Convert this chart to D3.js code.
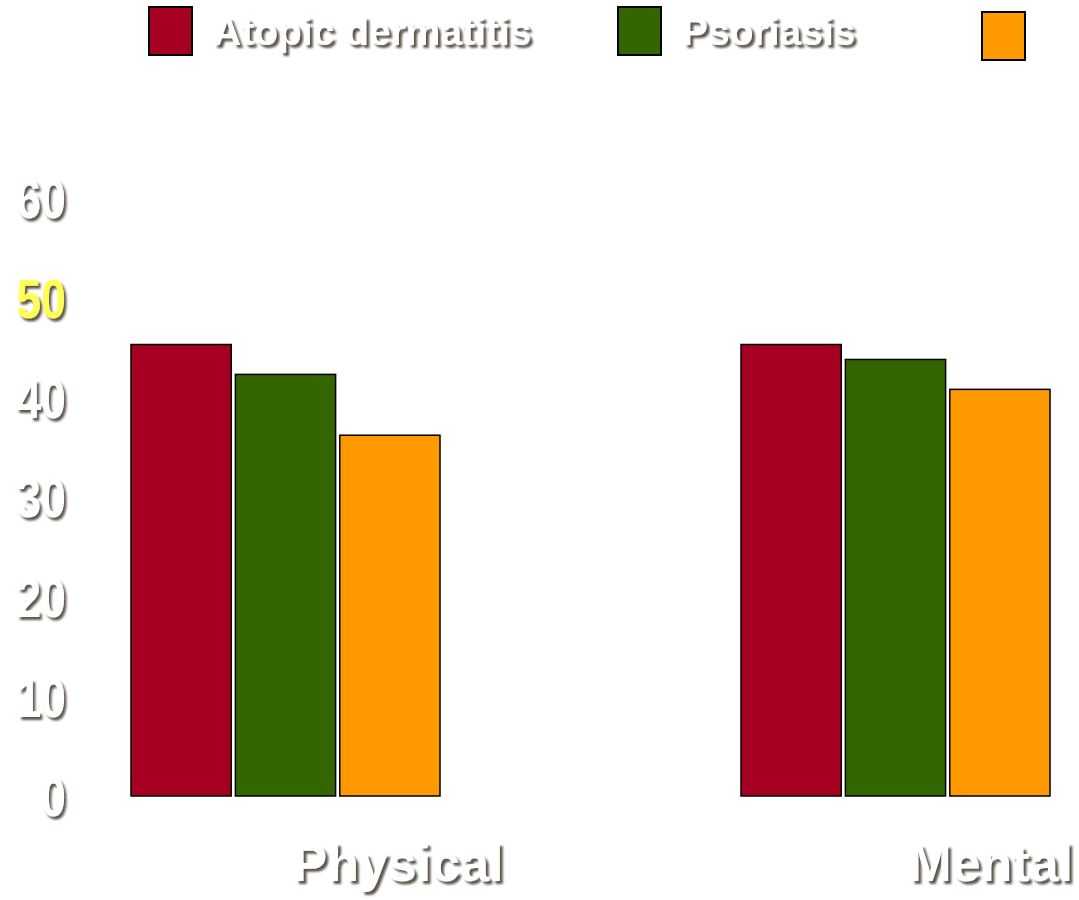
<!DOCTYPE html>
<html>
<head>
<meta charset="utf-8">
<script src="https://cdn.jsdelivr.net/npm/d3@7"></script>
<style>
  html, body { margin: 0; padding: 0; background: #fff; }
  svg { display: block; }
  text { font-family: "Liberation Sans", Arial, sans-serif; font-weight: bold; }
</style>
</head>
<body>
<svg id="chart" width="1079" height="900"></svg>
<script>
var categories = ['Physical', 'Mental']
var seriesNames = ['Atopic dermatitis', 'Psoriasis', '']
var seriesColors = ['#a50021', '#336600', '#ff9900']
var atopicValues = [45.3, 45.3]
var psoriasisValues = [42.3, 43.8]
var thirdValues = [36.2, 40.8]
var tickValues = [0, 10, 20, 30, 40, 50, 60]

var allSeries = [atopicValues, psoriasisValues, thirdValues]

var width = 1079, height = 900
var svg = d3.select('#chart')

// drop shadow for all the white text
var defs = svg.append('defs')
var f = defs.append('filter').attr('id', 'shadow')
    .attr('x', '-10%').attr('y', '-10%').attr('width', '130%').attr('height', '140%')
f.append('feDropShadow')
    .attr('dx', 3).attr('dy', 3).attr('stdDeviation', 1.2)
    .attr('flood-color', '#5f574c').attr('flood-opacity', 1)

var y = d3.scaleLinear().domain([0, 60]).range([796, 198])

var x0 = d3.scaleBand().domain(categories).range([131, 1351])
var x1 = d3.scaleBand().domain(d3.range(seriesNames.length)).range([0, 309]).paddingInner(0.04)

// bars
var groups = svg.selectAll('g.cat')
    .data(categories)
    .join('g')
    .attr('class', 'cat')
    .attr('transform', function(d) { return 'translate(' + x0(d) + ',0)' })

groups.selectAll('rect')
    .data(function(d, ci) {
        return allSeries.map(function(s, si) { return {si: si, value: s[ci]} })
    })
    .join('rect')
    .attr('x', function(d) { return x1(d.si) })
    .attr('width', x1.bandwidth())
    .attr('y', function(d) { return y(d.value) })
    .attr('height', function(d) { return y(0) - y(d.value) })
    .attr('fill', function(d) { return seriesColors[d.si] })
    .attr('stroke', '#000')
    .attr('stroke-width', 1.5)

// y tick labels (condensed look)
svg.selectAll('text.tick')
    .data(tickValues)
    .join('text')
    .attr('class', 'tick')
    .attr('transform', function(d) { return 'translate(66,' + y(d) + ') scale(0.8,1)' })
    .attr('dy', '0.36em')
    .attr('text-anchor', 'end')
    .style('font-size', '56px')
    .attr('fill', function(d) { return d === 50 ? '#ffff55' : '#fff' })
    .attr('filter', 'url(#shadow)')
    .text(function(d) { return d })

// category labels, kept inside the right edge
svg.selectAll('text.catlabel')
    .data(categories)
    .join('text')
    .attr('class', 'catlabel')
    .attr('y', 881)
    .attr('text-anchor', 'middle')
    .style('font-size', '52px')
    .attr('fill', '#fff')
    .attr('filter', 'url(#shadow)')
    .text(function(d) { return d })
    .attr('x', function(d) {
        var w = this.getComputedTextLength()
        var cx = x0(d) + 267
        return Math.min(cx, width - 6 - w / 2)
    })

// legend
var legendX = [149, 618, 982]
var legendY = [7, 7, 12]
var leg = svg.selectAll('g.legend')
    .data(seriesNames)
    .join('g')
    .attr('class', 'legend')
    .attr('transform', function(d, i) { return 'translate(' + legendX[i] + ',' + legendY[i] + ')' })

leg.append('rect')
    .attr('width', 43)
    .attr('height', 48)
    .attr('fill', function(d, i) { return seriesColors[i] })
    .attr('stroke', '#000')
    .attr('stroke-width', 2)

leg.append('text')
    .attr('x', 64)
    .attr('y', 38)
    .style('font-size', '39px')
    .attr('fill', '#fff')
    .attr('filter', 'url(#shadow)')
    .text(function(d) { return d })
</script>
</body>
</html>
